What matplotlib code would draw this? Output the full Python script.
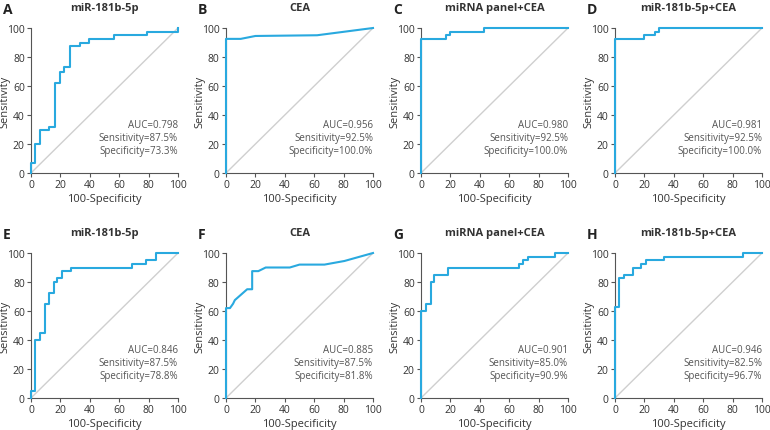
import matplotlib
matplotlib.use("Agg")
import matplotlib.pyplot as plt

plt.rcParams['font.family'] = ['Open Sans', 'DejaVu Sans']

# Datos (100-especificidad, sensibilidad)
letters = ['A', 'B', 'C', 'D', 'E', 'F', 'G', 'H']
titles = ['miR-181b-5p', 'CEA', 'miRNA panel+CEA', 'miR-181b-5p+CEA',
          'miR-181b-5p', 'CEA', 'miRNA panel+CEA', 'miR-181b-5p+CEA']
auc = ['0.798', '0.956', '0.980', '0.981', '0.846', '0.885', '0.901', '0.946']
sens = ['87.5', '92.5', '92.5', '92.5', '87.5', '87.5', '85.0', '82.5']
spec = ['73.3', '100.0', '100.0', '100.0', '78.8', '81.8', '90.9', '96.7']

fpr_a = [0, 0, 2.5, 2.5, 6, 6, 12.5, 12.5, 16.5, 16.5, 19.7, 19.7, 22.6, 22.6, 26.2, 26.2,
         33, 33, 39.6, 39.6, 56.6, 56.6, 79, 79, 100, 100]
tpr_a = [0, 7, 7, 20, 20, 30, 30, 32, 32, 62, 62, 70, 70, 73, 73, 87.5,
         87.5, 90, 90, 92.5, 92.5, 95, 95, 97.5, 97.5, 100]
fpr_b = [0, 0, 10, 20, 62, 100]
tpr_b = [0, 92.5, 92.5, 94.5, 95, 100]
fpr_c = [0, 0, 17, 17, 20, 20, 43, 43, 100]
tpr_c = [0, 92.5, 92.5, 95, 95, 97.5, 97.5, 100, 100]
fpr_d = [0, 0, 20, 20, 27, 27, 30, 30, 100]
tpr_d = [0, 92.5, 92.5, 95, 95, 97.5, 97.5, 100, 100]
fpr_e = [0, 0, 2.7, 2.7, 6.4, 6.4, 9.6, 9.6, 12.4, 12.4, 15.6, 15.6, 17.8, 17.8, 21, 21,
         27.5, 27.5, 69, 69, 78.5, 78.5, 84.7, 84.7, 100]
tpr_e = [0, 5, 5, 40, 40, 45, 45, 65, 65, 72.5, 72.5, 80, 80, 82.5, 82.5, 87.5,
         87.5, 90, 90, 92.5, 92.5, 95, 95, 100, 100]
fpr_f = [0, 0, 2.7, 4.8, 6, 14.4, 17.8, 17.8, 22, 27, 43.4, 50, 67, 80.6, 100]
tpr_f = [0, 62, 62, 65, 67.5, 75, 75, 87.5, 87.5, 90, 90, 92, 92, 94.5, 100]
fpr_g = [0, 0, 3.4, 3.4, 6.6, 6.6, 9.1, 9.1, 18.2, 18.2, 66.6, 66.6, 69.5, 69.5,
         73, 73, 91, 91, 100]
tpr_g = [0, 60, 60, 65, 65, 80, 80, 85, 85, 90, 90, 92.5, 92.5, 95,
         95, 97.5, 97.5, 100, 100]
fpr_h = [0, 0, 2.9, 2.9, 5.9, 5.9, 12, 12, 17.4, 17.4, 20.8, 20.8, 33, 33, 87, 87, 100]
tpr_h = [0, 62.5, 62.5, 82.5, 82.5, 85, 85, 90, 90, 92.5, 92.5, 95, 95, 97.5, 97.5, 100, 100]

fprs = [fpr_a, fpr_b, fpr_c, fpr_d, fpr_e, fpr_f, fpr_g, fpr_h]
tprs = [tpr_a, tpr_b, tpr_c, tpr_d, tpr_e, tpr_f, tpr_g, tpr_h]

W, H = 770, 431
fig = plt.figure(figsize=(W / 100, H / 100), dpi=100)

lefts = [31, 226, 421, 615]
tops = [29, 254]
aw, ah = 147, 145

for i in range(8):
    row, col = divmod(i, 4)
    x0 = lefts[col]
    y0 = tops[row]
    ax = fig.add_axes([x0 / W, 1 - (y0 + ah) / H, aw / W, ah / H])
    ax.plot([0, 100], [0, 100], color='#cfcfcf', lw=1.0, zorder=1)
    ax.plot(fprs[i], tprs[i], color='#29a9df', lw=1.5, zorder=3, clip_on=False)
    ax.set_xlim(0, 100)
    ax.set_ylim(0, 100)
    ax.set_xticks(range(0, 101, 20))
    ax.set_yticks(range(0, 101, 20))
    for s in ['top', 'right']:
        ax.spines[s].set_visible(False)
    for s in ['left', 'bottom']:
        ax.spines[s].set_color('#555555')
        ax.spines[s].set_linewidth(0.8)
    ax.tick_params(labelsize=7.5, length=3, width=0.8, color='#555555',
                   labelcolor='#333333', pad=1.5)
    ax.set_xlabel('100-Specificity', fontsize=8, color='#333333', labelpad=2)
    ax.set_ylabel('Sensitivity', fontsize=8, color='#333333', va='center')
    ax.yaxis.set_label_coords(-26 / aw, 0.5)
    ax.set_title(titles[i], fontsize=8, fontweight='bold', color='#333333', pad=13)
    ax.text(100, 24.5, 'AUC=' + auc[i] + '\nSensitivity=' + sens[i] + '%\nSpecificity=' + spec[i] + '%',
            ha='right', va='center', fontsize=7, color='#555555', linespacing=1.3)
    fig.text((x0 - 28) / W, 1 - (y0 - 19) / H, letters[i], fontsize=10,
             fontweight='bold', color='#222222', ha='left', va='center')

fig.savefig('out.png', dpi=100)
